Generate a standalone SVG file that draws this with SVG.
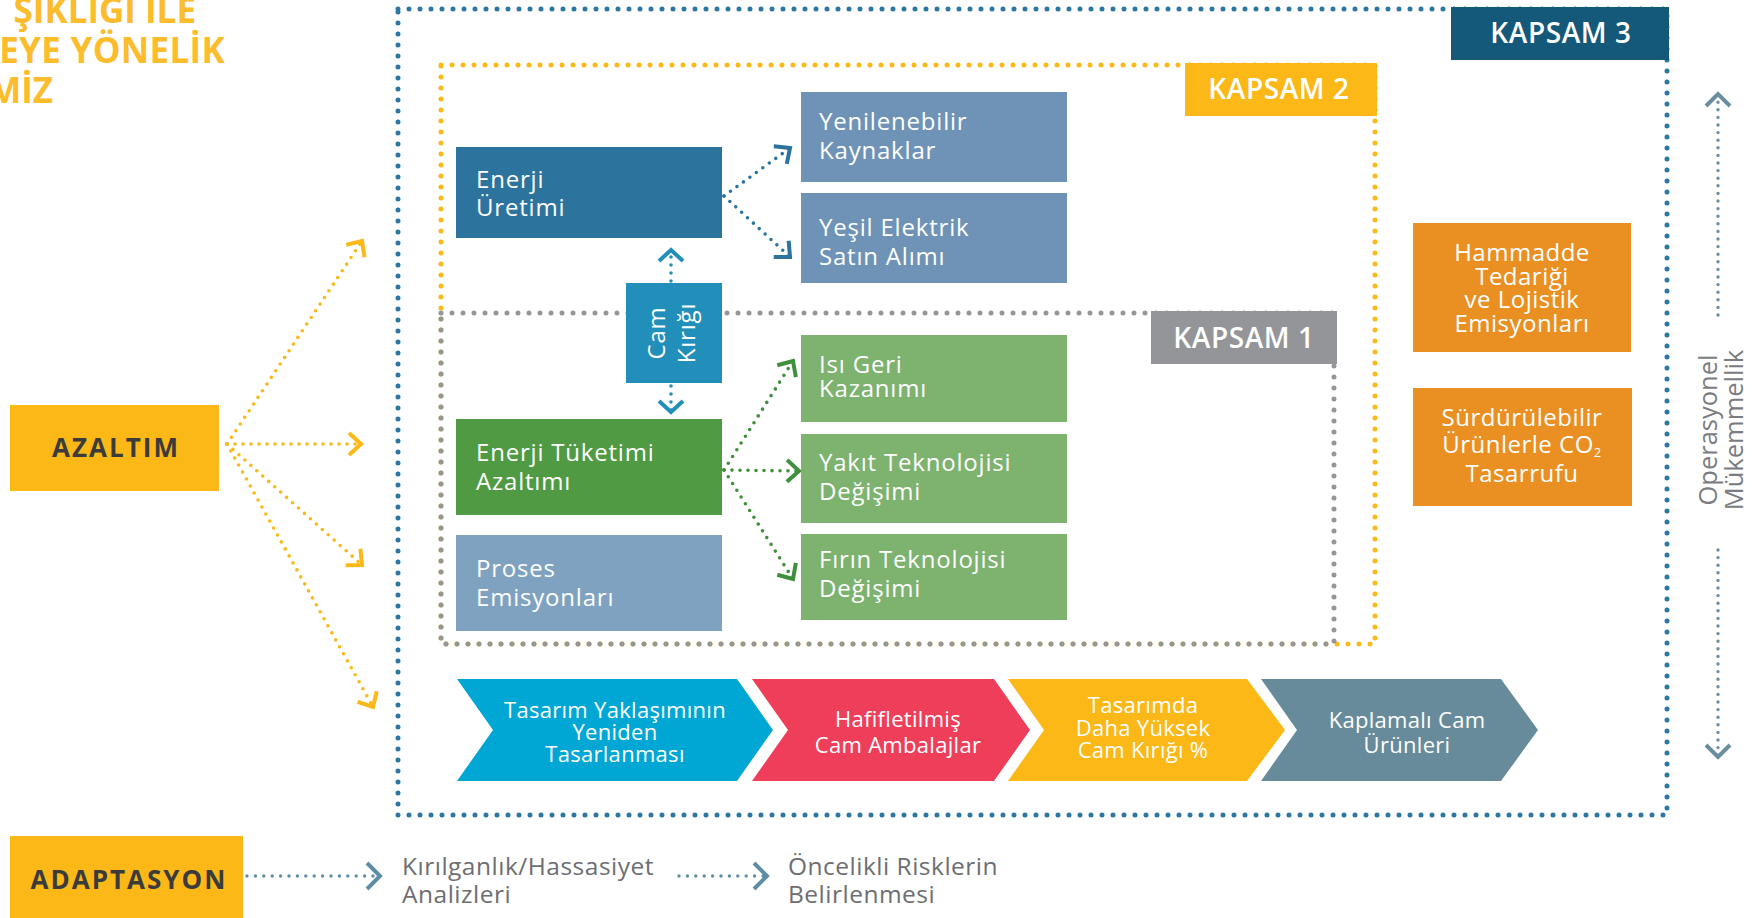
<svg xmlns="http://www.w3.org/2000/svg" width="1753" height="918" viewBox="0 0 1753 918">
<style>
text{font-family:"Open Sans","Noto Sans","DejaVu Sans",sans-serif}
.w{fill:#ffffff}
.bt{font-size:24px;fill:#ffffff;letter-spacing:0.8px}
.ct{font-size:22px;fill:#ffffff;text-anchor:middle;letter-spacing:0.3px}
.rt{font-size:24px;fill:#ffffff;text-anchor:middle;letter-spacing:0.5px}
.kap{font-size:28px;font-weight:600;fill:#ffffff;text-anchor:middle;letter-spacing:0.6px}
.lab{font-size:26px;font-weight:700;fill:#3b3b3b;text-anchor:middle;letter-spacing:2px}
.gt{font-size:24.5px;fill:#6d6e71;letter-spacing:0.5px}
.dB{fill:none;stroke:#2b76a3;stroke-width:5;stroke-linecap:round;stroke-dasharray:0 11}
.dY{fill:none;stroke:#fbb817;stroke-width:5;stroke-linecap:round;stroke-dasharray:0 11}
.dG{fill:none;stroke:#959698;stroke-width:5;stroke-linecap:round;stroke-dasharray:0 11}
.aY{fill:none;stroke:#fbb817;stroke-width:3.6;stroke-linecap:round;stroke-dasharray:0 8}
.aB{fill:none;stroke:#2c749e;stroke-width:3.6;stroke-linecap:round;stroke-dasharray:0 8}
.aG{fill:none;stroke:#3f8f3c;stroke-width:3.6;stroke-linecap:round;stroke-dasharray:0 8}
.aC{fill:none;stroke:#228fbb;stroke-width:3.6;stroke-linecap:round;stroke-dasharray:0 8}
.aS{fill:none;stroke:#6a8e9f;stroke-width:3.4;stroke-linecap:round;stroke-dasharray:0 7.6}
.aA{fill:none;stroke:#5e8ea5;stroke-width:3.4;stroke-linecap:round;stroke-dasharray:0 8.4}
.mk{fill:none;stroke-width:4;stroke-dasharray:none;stroke-linecap:butt;stroke-linejoin:miter}
</style>
<defs>
<marker id="mY" markerUnits="userSpaceOnUse" markerWidth="30" markerHeight="30" refX="0" refY="0" orient="auto" overflow="visible"><path class="mk" stroke="#fbb817" d="M -12 -11 L 0 0 L -12 11"/></marker>
<marker id="mB" markerUnits="userSpaceOnUse" markerWidth="30" markerHeight="30" refX="0" refY="0" orient="auto" overflow="visible"><path class="mk" stroke="#2c749e" d="M -12 -11 L 0 0 L -12 11"/></marker>
<marker id="mG" markerUnits="userSpaceOnUse" markerWidth="30" markerHeight="30" refX="0" refY="0" orient="auto" overflow="visible"><path class="mk" stroke="#3f8f3c" d="M -12 -11 L 0 0 L -12 11"/></marker>
<marker id="mC" markerUnits="userSpaceOnUse" markerWidth="30" markerHeight="30" refX="0" refY="0" orient="auto" overflow="visible"><path class="mk" stroke="#228fbb" d="M -11 -12 L 0 0 L -11 12"/></marker>
<marker id="mS" markerUnits="userSpaceOnUse" markerWidth="30" markerHeight="30" refX="0" refY="0" orient="auto" overflow="visible"><path class="mk" stroke="#6a8e9f" d="M -12 -12 L 0 0 L -12 12"/></marker>
<marker id="mA" markerUnits="userSpaceOnUse" markerWidth="30" markerHeight="30" refX="0" refY="0" orient="auto" overflow="visible"><path class="mk" stroke="#5e8ea5" d="M -13 -13 L 0 0 L -13 13"/></marker>
</defs>
<rect width="1753" height="918" fill="#ffffff"/>

<g id="title" font-size="35" font-weight="700" fill="#fcbc2c" text-anchor="end">
<text x="196" y="23">ŞIKLIĞI İLE</text>
<text x="225" y="63" letter-spacing="0.3">EYE YÖNELİK</text>
<text x="53" y="103">MİZ</text>
</g>

<g id="scope-frames">
<rect class="dB" x="398" y="9" width="1269" height="806"/>
<rect class="dY" x="441" y="65" width="934" height="579"/>
<rect class="dG" x="441" y="313" width="893" height="331"/>
</g>

<g id="kapsam3"><rect x="1451" y="7" width="218" height="53" fill="#14587a"/><text class="kap" x="1561" y="43">KAPSAM 3</text></g>
<g id="kapsam2"><rect x="1185" y="63" width="192" height="53" fill="#fbb817"/><text class="kap" x="1279" y="99">KAPSAM 2</text></g>
<g id="kapsam1"><rect x="1151" y="311" width="186" height="53" fill="#949598"/><text class="kap" x="1244" y="348">KAPSAM 1</text></g>

<g id="connectors">
<line class="aY" x1="227" y1="444" x2="362" y2="241" marker-end="url(#mY)"/>
<line class="aY" x1="227" y1="444" x2="361" y2="444" marker-end="url(#mY)"/>
<line class="aY" x1="227" y1="444" x2="362" y2="565" marker-end="url(#mY)"/>
<line class="aY" x1="227" y1="444" x2="373" y2="707" marker-end="url(#mY)"/>
<line class="aB" x1="724" y1="196" x2="790" y2="148" marker-end="url(#mB)"/>
<line class="aB" x1="724" y1="196" x2="790" y2="257" marker-end="url(#mB)"/>
<line class="aG" x1="724" y1="470" x2="793" y2="361" marker-end="url(#mG)"/>
<line class="aG" x1="724" y1="470" x2="799" y2="471" marker-end="url(#mG)"/>
<line class="aG" x1="724" y1="470" x2="793" y2="579" marker-end="url(#mG)"/>
<line class="aC" x1="671" y1="281" x2="671" y2="250" marker-end="url(#mC)"/>
<line class="aC" x1="671" y1="386" x2="671" y2="412" marker-end="url(#mC)"/>
<line class="aS" x1="1718" y1="315" x2="1718" y2="94" marker-end="url(#mS)"/>
<line class="aS" x1="1718" y1="550" x2="1718" y2="757" marker-end="url(#mS)"/>
<line class="aA" x1="247" y1="876" x2="380" y2="876" marker-end="url(#mA)"/>
<line class="aA" x1="679" y1="876" x2="767" y2="876" marker-end="url(#mA)"/>
</g>

<g id="enerji-uretimi"><rect x="456" y="147" width="266" height="91" fill="#2c749e"/><text class="bt" x="476" y="188">Enerji</text><text class="bt" x="476" y="216">Üretimi</text></g>
<g id="yenilenebilir"><rect x="801" y="92" width="266" height="90" fill="#6f93b6"/><text class="bt" x="819" y="130">Yenilenebilir</text><text class="bt" x="819" y="159">Kaynaklar</text></g>
<g id="yesil-elektrik"><rect x="801" y="193" width="266" height="90" fill="#6f93b6"/><text class="bt" x="819" y="236">Yeşil Elektrik</text><text class="bt" x="819" y="265">Satın Alımı</text></g>
<g id="cam-kirigi"><rect x="626" y="283" width="96" height="100" fill="#228fbb"/>
<text class="bt" text-anchor="middle" transform="translate(665,333) rotate(-90)">Cam</text>
<text class="bt" text-anchor="middle" transform="translate(695,333) rotate(-90)">Kırığı</text></g>
<g id="enerji-tuketimi"><rect x="456" y="419" width="266" height="96" fill="#4f9a43"/><text class="bt" x="476" y="461">Enerji Tüketimi</text><text class="bt" x="476" y="490">Azaltımı</text></g>
<g id="proses"><rect x="456" y="535" width="266" height="96" fill="#7ea2c0"/><text class="bt" x="476" y="577">Proses</text><text class="bt" x="476" y="606">Emisyonları</text></g>
<g id="isi-geri"><rect x="801" y="335" width="266" height="87" fill="#7db26f"/><text class="bt" x="819" y="373">Isı Geri</text><text class="bt" x="819" y="397">Kazanımı</text></g>
<g id="yakit"><rect x="801" y="434" width="266" height="89" fill="#7db26f"/><text class="bt" x="819" y="471">Yakıt Teknolojisi</text><text class="bt" x="819" y="500">Değişimi</text></g>
<g id="firin"><rect x="801" y="534" width="266" height="86" fill="#7db26f"/><text class="bt" x="819" y="568">Fırın Teknolojisi</text><text class="bt" x="819" y="597">Değişimi</text></g>

<g id="hammadde"><rect x="1413" y="223" width="218" height="129" fill="#ea9022"/>
<text class="rt" x="1522" y="261">Hammadde</text><text class="rt" x="1522" y="285">Tedariği</text><text class="rt" x="1522" y="308">ve Lojistik</text><text class="rt" x="1522" y="332">Emisyonları</text></g>
<g id="surdurulebilir"><rect x="1413" y="388" width="219" height="118" fill="#ea9022"/>
<text class="rt" x="1522" y="426">Sürdürülebilir</text><text class="rt" x="1522" y="453">Ürünlerle CO<tspan font-size="13" dy="4">2</tspan></text><text class="rt" x="1522" y="482">Tasarrufu</text></g>

<g id="operasyonel" font-size="25.5" fill="#7a7c7f" text-anchor="middle">
<text transform="translate(1717,430) rotate(-90)">Operasyonel</text>
<text transform="translate(1743,430) rotate(-90)">Mükemmellik</text>
</g>

<g id="azaltim"><rect x="10" y="405" width="209" height="86" fill="#fbb817"/><text class="lab" x="116" y="457">AZALTIM</text></g>
<g id="adaptasyon"><rect x="10" y="836" width="233" height="82" fill="#fbb817"/><text class="lab" x="129" y="889">ADAPTASYON</text></g>

<g id="chevron-tasarim"><polygon points="457,679 737,679 773,730 737,781 457,781 493,730" fill="#00a7d5"/>
<text class="ct" x="615" y="718">Tasarım Yaklaşımının</text><text class="ct" x="615" y="740">Yeniden</text><text class="ct" x="615" y="762">Tasarlanması</text></g>
<g id="chevron-hafif"><polygon points="752,679 994,679 1030,730 994,781 752,781 788,730" fill="#ee3e5a"/>
<text class="ct" x="898" y="727">Hafifletilmiş</text><text class="ct" x="898" y="753">Cam Ambalajlar</text></g>
<g id="chevron-kirik"><polygon points="1008,679 1247,679 1285,730 1247,781 1008,781 1044,730" fill="#fbb817"/>
<text class="ct" x="1143" y="713">Tasarımda</text><text class="ct" x="1143" y="736">Daha Yüksek</text><text class="ct" x="1143" y="758">Cam Kırığı %</text></g>
<g id="chevron-kaplama"><polygon points="1261,679 1501,679 1538,730 1501,781 1261,781 1297,730" fill="#688b9b"/>
<text class="ct" x="1407" y="728">Kaplamalı Cam</text><text class="ct" x="1407" y="753">Ürünleri</text></g>

<g id="kirilganlik"><text class="gt" x="402" y="875">Kırılganlık/Hassasiyet</text><text class="gt" x="402" y="903">Analizleri</text></g>
<g id="oncelikli"><text class="gt" x="788" y="875">Öncelikli Risklerin</text><text class="gt" x="788" y="903">Belirlenmesi</text></g>
</svg>
